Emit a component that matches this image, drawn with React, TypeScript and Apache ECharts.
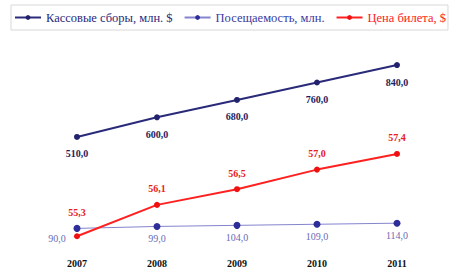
import React, { useEffect, useRef } from "react";
import * as echarts from "echarts";

const years = ["2007", "2008", "2009", "2010", "2011"];
const boxOffice = [510.0, 600.0, 680.0, 760.0, 840.0];
const attendance = [90.0, 99.0, 104.0, 109.0, 114.0];
const ticketPrice = [55.3, 56.1, 56.5, 57.0, 57.4];

const seriesNames = ["Кассовые сборы, млн. $", "Посещаемость, млн.", "Цена билета, $"];

const fmt = (v: number) => v.toFixed(1).replace(".", ",");
const FONT = "Liberation Serif";

export default function App() {
  const ref = useRef<HTMLDivElement>(null);
  useEffect(() => {
    if (!ref.current) return;
    const chart = echarts.init(ref.current, undefined, { renderer: "svg" });
    chart.setOption({
      animation: false,
      backgroundColor: "#ffffff",
      legend: {
        left: 11,
        top: 5,
        width: 446,
        padding: [6, 2, 6, 3],
        itemGap: 11,
        itemWidth: 26,
        itemHeight: 6,
        borderColor: "#d8d8d8",
        borderWidth: 1,
        data: [
          { name: seriesNames[0], textStyle: { color: "#2a2a7a" } },
          { name: seriesNames[1], textStyle: { color: "#3a3aa0" } },
          { name: seriesNames[2], textStyle: { color: "#ff2020" } },
        ],
        textStyle: { fontFamily: FONT, fontSize: 12.5 },
      },
      grid: { left: 37, right: 21, top: 52, bottom: 23 },
      xAxis: {
        type: "category",
        data: years,
        boundaryGap: true,
        axisLine: { show: false },
        axisTick: { show: false },
        axisLabel: {
          color: "#111",
          fontFamily: FONT,
          fontWeight: "bold",
          fontSize: 10,
          margin: 10,
        },
      },
      yAxis: [
        { type: "value", min: 0, max: 900, show: false, splitLine: { show: false } },
        { type: "value", min: 55, max: 60, show: false, splitLine: { show: false } },
      ],
      series: [
        {
          name: seriesNames[0],
          type: "line",
          yAxisIndex: 0,
          data: boxOffice,
          color: "#2a2a7a",
          symbol: "circle",
          symbolSize: 6,
          lineStyle: { width: 2, color: "#2a2a7a" },
          itemStyle: { color: "#22226e" },
          label: {
            show: true,
            position: "bottom",
            distance: 9,
            formatter: (p: any) => fmt(p.value),
            color: "#1e1e5e",
            fontFamily: FONT,
            fontWeight: "bold",
            fontSize: 10,
          },
        },
        {
          name: seriesNames[1],
          type: "line",
          yAxisIndex: 0,
          color: "#3a3aa8",
          symbol: "circle",
          symbolSize: 7,
          lineStyle: { width: 1, color: "#5050b8", opacity: 0.7 },
          itemStyle: { color: "#2e2e9a" },
          label: {
            show: true,
            position: "bottom",
            distance: 4,
            formatter: (p: any) => fmt(p.value),
            color: "#6a6ab8",
            fontFamily: FONT,
            fontSize: 10,
          },
          data: attendance.map((v, i) =>
            i === 0 ? { value: v, label: { offset: [-20, -2] } } : v
          ),
        },
        {
          name: seriesNames[2],
          type: "line",
          yAxisIndex: 1,
          color: "#ff2020",
          symbol: "circle",
          symbolSize: 6,
          lineStyle: { width: 2, color: "#ff2020" },
          itemStyle: { color: "#f01010" },
          label: {
            show: true,
            position: "top",
            distance: 8,
            formatter: (p: any) => fmt(p.value),
            color: "#e82020",
            fontFamily: FONT,
            fontWeight: "bold",
            fontSize: 10,
          },
          data: ticketPrice.map((v, i) =>
            i === 0 ? { value: v, label: { offset: [0, -8] } } : v
          ),
        },
      ],
    });
    return () => chart.dispose();
  }, []);
  return (
    <div
      ref={ref}
      style={{ position: "fixed", left: 0, top: 0, width: 458, height: 271 }}
    />
  );
}
